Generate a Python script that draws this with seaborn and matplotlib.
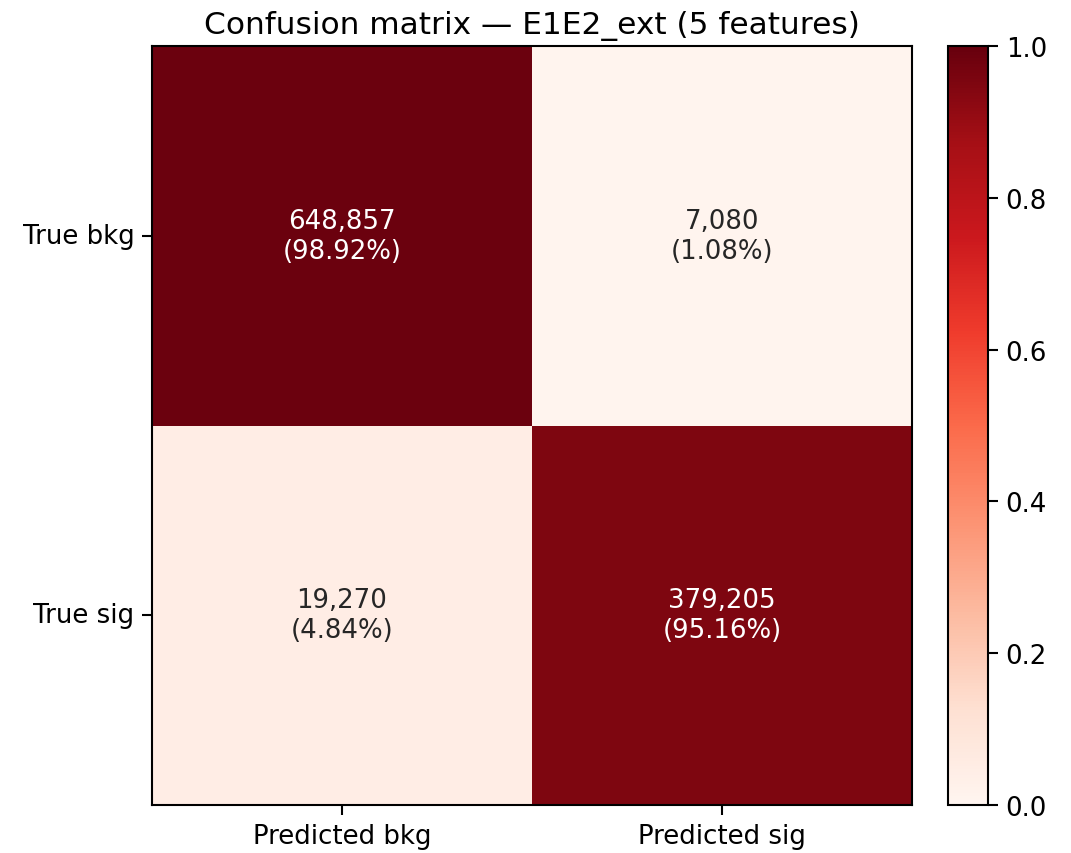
import numpy as np
import pandas as pd
import matplotlib
matplotlib.use("Agg")
import matplotlib.pyplot as plt
import seaborn as sns

# Confusion matrix counts (rows: true class, columns: predicted class)
true_labels = ["True bkg", "True sig"]
pred_labels = ["Predicted bkg", "Predicted sig"]
counts_bkg = [648857, 7080]
counts_sig = [19270, 379205]

counts = np.array([counts_bkg, counts_sig], dtype=float)
row_frac = counts / counts.sum(axis=1, keepdims=True)
frac_df = pd.DataFrame(row_frac, index=true_labels, columns=pred_labels)

annot = np.array([[f"{int(c):,}\n({f*100:.2f}%)" for c, f in zip(cr, fr)]
                  for cr, fr in zip(counts, row_frac)])

fig = plt.figure(figsize=(7.14, 5.693), dpi=150)
ax = fig.add_axes([0.1419, 0.0562, 0.7096, 0.8888])
cax = fig.add_axes([0.8852, 0.0562, 0.0373, 0.8888])

sns.heatmap(frac_df, ax=ax, cbar_ax=cax, cmap="Reds", vmin=0, vmax=1,
            annot=annot, fmt="", annot_kws={"fontsize": 12.5})

# Keep the frame around the matrix visible
for sp in ax.spines.values():
    sp.set_visible(True)
    sp.set_linewidth(1.0)
    sp.set_color("black")
for t in ax.texts:
    if t.get_color() not in ("w", "white", (1, 1, 1), (1.0, 1.0, 1.0)):
        pass

cbar = ax.collections[0].colorbar
cbar.outline.set_visible(True)
cbar.outline.set_linewidth(1.0)
cbar.outline.set_edgecolor("black")
cbar.ax.tick_params(labelsize=12.5, length=5, width=1.0)

ax.tick_params(axis="both", labelsize=12.5, length=5, width=1.0)
ax.set_yticklabels(true_labels, rotation=0)
ax.set_xticklabels(pred_labels, rotation=0)
ax.set_xlabel("")
ax.set_ylabel("")
ax.set_title("Confusion matrix — E1E2_ext (5 features)", fontsize=15)

fig.savefig("out.png", dpi=150)
